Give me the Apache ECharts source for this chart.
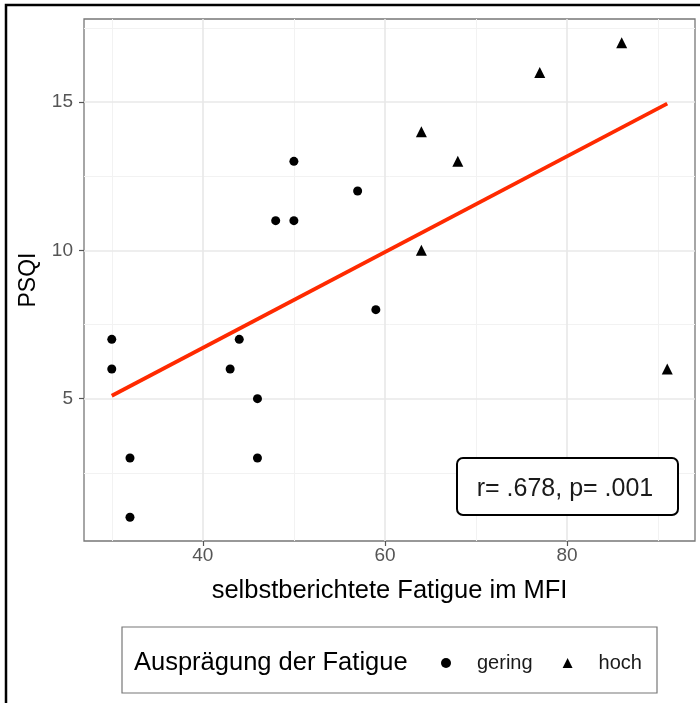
<!DOCTYPE html>
<html>
<head>
<meta charset="utf-8">
<script src="https://cdn.jsdelivr.net/npm/echarts@6/dist/echarts.min.js"></script>
<style>
  html, body { margin: 0; padding: 0; background: #fff; }
  #chart { width: 700px; height: 703px; }
</style>
</head>
<body>
<div id="chart"></div>
<script>
// MFI fatigue score vs. PSQI, split by fatigue level
const geringMFI  = [30, 30, 32, 32, 43, 44, 46, 46, 48, 50, 50, 57, 59];
const geringPSQI = [ 7,  6,  3,  1,  6,  7,  5,  3, 11, 13, 11, 12,  8];
const hochMFI    = [64, 64, 68, 77, 86, 91];
const hochPSQI   = [14, 10, 13, 16, 17,  6];

const xTicks = [40, 60, 80];
const xMinor = [30, 50, 70, 90];
const yTicks = [5, 10, 15];
const yMinor = [2.5, 7.5, 12.5, 17.5];

const statLabel = 'r= .678, p= .001';
const levelNames = ['gering', 'hoch'];

const FONT = '"Liberation Sans", Arial, sans-serif';

// Least-squares fit over all points
const allX = geringMFI.concat(hochMFI);
const allY = geringPSQI.concat(hochPSQI);
const n = allX.length;
const mx = allX.reduce((a, b) => a + b, 0) / n;
const my = allY.reduce((a, b) => a + b, 0) / n;
let sxy = 0, sxx = 0;
for (let i = 0; i < n; i++) {
  sxy += (allX[i] - mx) * (allY[i] - my);
  sxx += (allX[i] - mx) * (allX[i] - mx);
}
const slope = sxy / sxx;
const icpt = my - slope * mx;
const xLo = Math.min(...allX), xHi = Math.max(...allX);
const fitLine = [[xLo, icpt + slope * xLo], [xHi, icpt + slope * xHi]];

// Axis range with 5% padding on each side
const xPad = (xHi - xLo) * 0.05;
const yLo = Math.min(...allY), yHi = Math.max(...allY);
const yPad = (yHi - yLo) * 0.05;

const gridLines = [];
xMinor.forEach(v => gridLines.push({ xAxis: v, lineStyle: { color: '#f2f2f2', width: 1, type: 'solid' } }));
yMinor.forEach(v => gridLines.push({ yAxis: v, lineStyle: { color: '#f2f2f2', width: 1, type: 'solid' } }));
xTicks.forEach(v => gridLines.push({ xAxis: v, lineStyle: { color: '#e8e8e8', width: 1.6, type: 'solid' } }));
yTicks.forEach(v => gridLines.push({ yAxis: v, lineStyle: { color: '#e8e8e8', width: 1.6, type: 'solid' } }));

const chart = echarts.init(document.getElementById('chart'), null, { renderer: 'canvas' });

chart.setOption({
  animation: false,
  backgroundColor: '#fff',
  textStyle: { fontFamily: FONT },
  grid: {
    left: 84, top: 19, right: 5, bottom: 162,
    show: true, borderColor: '#777', borderWidth: 1.3, backgroundColor: '#fff', z: 0
  },
  xAxis: {
    type: 'value',
    min: xLo - xPad, max: xHi + xPad,
    axisLine: { show: false },
    splitLine: { show: false },
    axisTick: { show: true, length: 5, customValues: xTicks, lineStyle: { color: '#555', width: 1.2 } },
    axisLabel: { customValues: xTicks, color: '#555', fontSize: 19, margin: 5, fontFamily: FONT },
    name: 'selbstberichtete Fatigue im MFI',
    nameLocation: 'middle', nameGap: 37,
    nameTextStyle: { color: '#000', fontSize: 25.5, fontFamily: FONT }
  },
  yAxis: {
    type: 'value',
    min: yLo - yPad, max: yHi + yPad,
    axisLine: { show: false },
    splitLine: { show: false },
    axisTick: { show: true, length: 5, customValues: yTicks, lineStyle: { color: '#555', width: 1.2 } },
    axisLabel: { customValues: yTicks, color: '#555', fontSize: 19, margin: 11, fontFamily: FONT },
    name: 'PSQI',
    nameLocation: 'middle', nameGap: 44,
    nameTextStyle: { color: '#000', fontSize: 23, fontFamily: FONT }
  },
  legend: {
    data: levelNames,
    left: 441, top: 653,
    padding: 0,
    orient: 'horizontal',
    itemWidth: 10, itemHeight: 10,
    itemGap: 30,
    textStyle: { color: '#1a1a1a', fontSize: 20, fontFamily: FONT, padding: [0, 0, 0, 21] }
  },
  series: [
    {
      name: 'gridlines',
      type: 'line',
      data: [],
      silent: true,
      z: 1,
      markLine: {
        silent: true,
        z: 1,
        symbol: 'none',
        label: { show: false },
        animation: false,
        data: gridLines
      }
    },
    {
      name: levelNames[0],
      type: 'scatter',
      symbol: 'circle',
      symbolSize: 9,
      itemStyle: { color: '#000', opacity: 1 },
      data: geringMFI.map((x, i) => [x, geringPSQI[i]]),
      z: 3
    },
    {
      name: levelNames[1],
      type: 'scatter',
      symbol: 'triangle',
      symbolSize: 11,
      itemStyle: { color: '#000', opacity: 1 },
      data: hochMFI.map((x, i) => [x, hochPSQI[i]]),
      z: 3
    },
    {
      name: 'fit',
      type: 'line',
      data: fitLine,
      symbol: 'none',
      lineStyle: { color: '#ff2a00', width: 3.8 },
      silent: true,
      z: 4
    }
  ],
  graphic: [
    {
      type: 'polyline',
      shape: { points: [[6, 703], [6, 5], [700, 5]] },
      style: { stroke: '#000', lineWidth: 2.5, fill: null },
      z: 10
    },
    {
      type: 'rect',
      shape: { x: 457, y: 458, width: 221, height: 57, r: 6 },
      style: { fill: '#fff', stroke: '#000', lineWidth: 2 },
      z: 10
    },
    {
      type: 'text',
      x: 565, y: 489,
      style: { text: statLabel, fill: '#1a1a1a', font: '25px ' + FONT, align: 'center', verticalAlign: 'middle' },
      z: 11
    },
    {
      type: 'rect',
      shape: { x: 122, y: 627, width: 535, height: 66 },
      style: { fill: 'none', stroke: '#777', lineWidth: 1.2 },
      z: 10
    },
    {
      type: 'text',
      x: 134, y: 663,
      style: { text: 'Ausprägung der Fatigue', fill: '#000', font: '25.5px ' + FONT, verticalAlign: 'middle' },
      z: 11
    }
  ]
});
</script>
</body>
</html>
